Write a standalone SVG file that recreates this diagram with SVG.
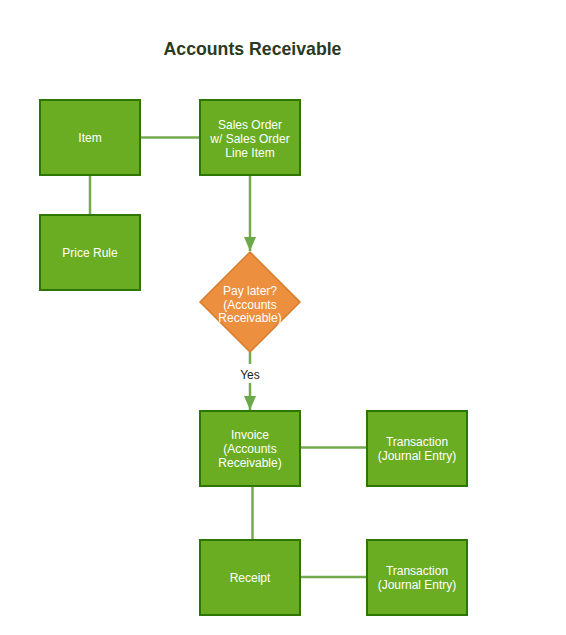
<svg xmlns="http://www.w3.org/2000/svg" width="566" height="635" viewBox="0 0 566 635">
<defs>
<style>
.box{fill:#6aad22;stroke:#2d7600;stroke-width:2}
.dia{fill:#ec8f3e;stroke:#d77b2c;stroke-width:1.5}
.t{font-family:"Liberation Sans",Arial,sans-serif;font-size:12px;fill:#ffffff;text-anchor:middle}
.lbl{font-family:"Liberation Sans",Arial,sans-serif;font-size:12px;fill:#222222;text-anchor:middle}
.title{font-family:"Liberation Sans",Arial,sans-serif;font-size:17.7px;font-weight:bold;fill:#2b3a1e;text-anchor:middle}
.e{fill:none;stroke:#73aa4e;stroke-width:2.5}
</style>
<marker id="arr" viewBox="0 0 14 12" refX="14" refY="6" markerWidth="14" markerHeight="12" markerUnits="userSpaceOnUse" orient="auto">
<path d="M0,0 L14,6 L0,12 Z" fill="#6aa84a"/>
</marker>
</defs>
<rect width="566" height="635" fill="#ffffff"/>
<text class="title" x="252.5" y="54.5">Accounts Receivable</text>
<g id="connectors">
<path class="e" d="M140,137.5 H200"/>
<path class="e" d="M90,175 V215"/>
<path class="e" d="M250,175 V251" marker-end="url(#arr)"/>
<path class="e" d="M250,352 V364"/>
<path class="e" d="M250,383 V410" marker-end="url(#arr)"/>
<path class="e" d="M300,447.5 H367"/>
<path class="e" d="M252.5,486 V540"/>
<path class="e" d="M300,577 H367"/>
<text class="lbl" x="250" y="379">Yes</text>
</g>
<g id="item">
<rect class="box" x="40" y="100" width="100" height="75"/>
<text class="t" x="90" y="142">Item</text>
</g>
<g id="sales-order">
<rect class="box" x="200" y="100" width="100" height="75"/>
<text class="t" x="250" y="128.5">Sales Order</text>
<text class="t" x="250" y="142.5">w/ Sales Order</text>
<text class="t" x="250" y="156.5">Line Item</text>
</g>
<g id="price-rule">
<rect class="box" x="40" y="215" width="100" height="75"/>
<text class="t" x="90" y="257">Price Rule</text>
</g>
<g id="pay-later">
<path class="dia" d="M250,252 L300,302 L250,352 L200,302 Z"/>
<text class="t" x="250" y="294.5">Pay later?</text>
<text class="t" x="250" y="308.5">(Accounts</text>
<text class="t" x="250" y="322">Receivable)</text>
</g>
<g id="invoice">
<rect class="box" x="200" y="411" width="100" height="75"/>
<text class="t" x="250" y="439">Invoice</text>
<text class="t" x="250" y="453">(Accounts</text>
<text class="t" x="250" y="467">Receivable)</text>
</g>
<g id="transaction1">
<rect class="box" x="367" y="411" width="100" height="75"/>
<text class="t" x="417" y="446">Transaction</text>
<text class="t" x="417" y="460">(Journal Entry)</text>
</g>
<g id="receipt">
<rect class="box" x="200" y="540" width="100" height="75"/>
<text class="t" x="250" y="581.5">Receipt</text>
</g>
<g id="transaction2">
<rect class="box" x="367" y="540" width="100" height="75"/>
<text class="t" x="417" y="575">Transaction</text>
<text class="t" x="417" y="589">(Journal Entry)</text>
</g>
</svg>
